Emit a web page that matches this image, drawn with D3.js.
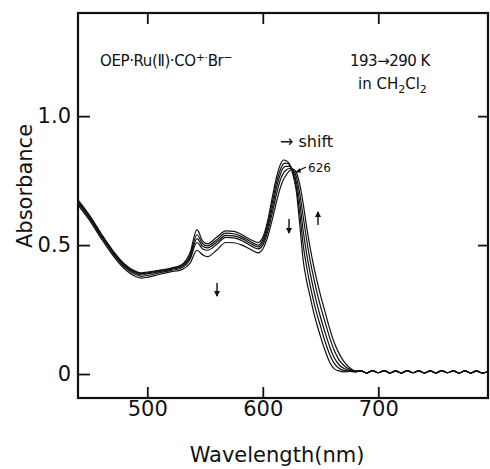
<!DOCTYPE html>
<html>
<head>
<meta charset="utf-8">
<script src="https://cdn.jsdelivr.net/npm/d3@7/dist/d3.min.js"></script>
<style>
  html, body { margin: 0; padding: 0; background: #fff; }
  svg { display: block; font-family: "DejaVu Sans", sans-serif; }
</style>
</head>
<body>
<svg id="chart" width="490" height="469"></svg>
<script>
(function () {
  'use strict';

  // wavelengths (nm) shared by the five spectra
  var wavelengths = [440, 450, 460, 470, 480, 490, 495, 500, 510, 520,
    530, 537, 543, 548, 552, 560, 568, 575, 582, 590,
    596, 600, 604, 608, 612, 615, 618, 620, 623, 626,
    629, 632, 635, 638, 641, 644, 647, 650, 654, 658,
    662, 666, 670, 675, 680];

  // 193 K (highest peak, leftmost red edge)
  var curve1 = [0.675, 0.615, 0.545, 0.480, 0.428, 0.398, 0.392, 0.395, 0.402, 0.410,
    0.425, 0.470, 0.560, 0.515, 0.505, 0.530, 0.555, 0.553, 0.540, 0.520,
    0.510, 0.530, 0.590, 0.680, 0.765, 0.810, 0.830, 0.828, 0.815, 0.775,
    0.710, 0.580, 0.440, 0.360, 0.300, 0.240, 0.190, 0.145, 0.090, 0.045,
    0.020, 0.012, 0.008, 0.010, 0.008];
  var curve2 = [0.670, 0.612, 0.542, 0.477, 0.425, 0.395, 0.389, 0.392, 0.400, 0.408,
    0.421, 0.460, 0.540, 0.505, 0.497, 0.520, 0.546, 0.544, 0.532, 0.512,
    0.500, 0.520, 0.575, 0.660, 0.745, 0.790, 0.815, 0.818, 0.812, 0.785,
    0.725, 0.625, 0.500, 0.415, 0.345, 0.283, 0.230, 0.185, 0.125, 0.075,
    0.040, 0.022, 0.014, 0.012, 0.009];
  var curve3 = [0.667, 0.608, 0.538, 0.473, 0.421, 0.391, 0.385, 0.388, 0.397, 0.405,
    0.417, 0.452, 0.525, 0.495, 0.489, 0.511, 0.538, 0.536, 0.525, 0.505,
    0.493, 0.510, 0.562, 0.640, 0.725, 0.772, 0.800, 0.805, 0.805, 0.790,
    0.745, 0.665, 0.555, 0.465, 0.392, 0.328, 0.270, 0.220, 0.160, 0.105,
    0.062, 0.036, 0.022, 0.014, 0.010];
  var curve4 = [0.662, 0.603, 0.533, 0.468, 0.416, 0.386, 0.379, 0.382, 0.392, 0.401,
    0.412, 0.445, 0.510, 0.485, 0.480, 0.502, 0.530, 0.528, 0.517, 0.497,
    0.485, 0.500, 0.548, 0.620, 0.700, 0.750, 0.780, 0.790, 0.797, 0.793,
    0.765, 0.700, 0.610, 0.520, 0.440, 0.375, 0.315, 0.262, 0.200, 0.140,
    0.090, 0.055, 0.034, 0.018, 0.010];
  // 290 K (peak at 626 nm)
  var curve5 = [0.655, 0.596, 0.526, 0.461, 0.409, 0.378, 0.372, 0.375, 0.386, 0.396,
    0.405, 0.430, 0.480, 0.462, 0.455, 0.480, 0.510, 0.509, 0.500, 0.482,
    0.470, 0.485, 0.528, 0.595, 0.670, 0.720, 0.755, 0.770, 0.788, 0.795,
    0.782, 0.735, 0.660, 0.570, 0.490, 0.420, 0.360, 0.305, 0.240, 0.175,
    0.120, 0.080, 0.050, 0.025, 0.012];

  // common wavy baseline beyond 680 nm
  var tailWl = [685, 690, 695, 700, 705, 710, 715, 720, 725, 730, 735, 740,
    745, 750, 755, 760, 765, 770, 775, 780, 785, 790, 795];
  var tailAbs = [0.012, 0.004, 0.013, 0.005, 0.013, 0.004, 0.012, 0.004, 0.013, 0.005, 0.012, 0.004,
    0.012, 0.004, 0.013, 0.005, 0.012, 0.004, 0.012, 0.004, 0.012, 0.004, 0.010];

  var xTicks = [500, 600, 700];
  var yTicks = [0, 0.5, 1.0];

  var svg = d3.select('#chart');
  var left = 78, right = 488, top = 13, bottom = 398;

  var x = d3.scaleLinear().domain([440, 795]).range([left, right]);
  var y = d3.scaleLinear().domain([-0.093, 1.40]).range([bottom, top]);

  var series = [curve1, curve2, curve3, curve4, curve5].map(function (vals) {
    var pts = wavelengths.map(function (w, i) { return [w, vals[i]]; });
    tailWl.forEach(function (w, i) { pts.push([w, tailAbs[i]]); });
    return pts;
  });

  var line = d3.line()
    .x(function (d) { return x(d[0]); })
    .y(function (d) { return y(d[1]); })
    .curve(d3.curveMonotoneX);

  svg.append('rect').attr('width', 490).attr('height', 469).attr('fill', '#fff');

  svg.append('g')
    .selectAll('path')
    .data(series)
    .enter()
    .append('path')
    .attr('d', line)
    .attr('fill', 'none')
    .attr('stroke', '#111')
    .attr('stroke-width', 1.2);

  // axes, ticks pointing inward
  var fmt = function (d) { return d === 0 ? '0' : d3.format('.1f')(d); };

  var gl = svg.append('g').attr('transform', 'translate(' + left + ',0)')
    .call(d3.axisLeft(y).tickValues(yTicks).tickSize(-12).tickPadding(7).tickFormat(fmt));
  var gr = svg.append('g').attr('transform', 'translate(' + right + ',0)')
    .call(d3.axisRight(y).tickValues([0.5, 1.0]).tickSize(-10).tickFormat(''));
  var gb = svg.append('g').attr('transform', 'translate(0,' + bottom + ')')
    .call(d3.axisBottom(x).tickValues(xTicks).tickSize(-11).tickPadding(3));
  var gt = svg.append('g').attr('transform', 'translate(0,' + top + ')')
    .call(d3.axisTop(x).tickValues(xTicks).tickSize(-11).tickFormat(''));

  [gl, gr, gb, gt].forEach(function (g) {
    g.select('.domain').remove();
    g.selectAll('line').attr('stroke', '#111').attr('stroke-width', 1.8);
    g.selectAll('text').attr('fill', '#111').style('font-size', '21px')
      .style('font-family', '"DejaVu Sans", sans-serif');
  });

  svg.append('rect')
    .attr('x', left).attr('y', top)
    .attr('width', right - left).attr('height', bottom - top)
    .attr('fill', 'none').attr('stroke', '#111').attr('stroke-width', 2.2);

  // axis titles
  svg.append('text')
    .attr('x', (left + right) / 2 - 6).attr('y', 462)
    .attr('text-anchor', 'middle')
    .style('font-size', '21px').attr('fill', '#111')
    .text('Wavelength(nm)');

  svg.append('text')
    .attr('transform', 'translate(32,186) rotate(-90)')
    .attr('text-anchor', 'middle')
    .style('font-size', '21px').attr('fill', '#111')
    .text('Absorbance');

  // annotations
  var t1 = svg.append('text').attr('x', 100).attr('y', 66)
    .style('font-size', '15px').attr('fill', '#111').attr('letter-spacing', '-0.4');
  t1.append('tspan').text('OEP·Ru(Ⅱ)·CO');
  t1.append('tspan').attr('dy', -5).style('font-size', '11px').text('+·');
  t1.append('tspan').attr('dy', 5).text('Br');
  t1.append('tspan').attr('dy', -5).style('font-size', '11px').text('−');

  svg.append('text').attr('x', 350).attr('y', 66)
    .style('font-size', '15px').attr('fill', '#111').attr('letter-spacing', '-0.5')
    .text('193→290 K');

  var t2 = svg.append('text').attr('x', 358).attr('y', 89)
    .style('font-size', '15px').attr('fill', '#111');
  t2.append('tspan').text('in CH');
  t2.append('tspan').attr('dy', 4).style('font-size', '11px').text('2');
  t2.append('tspan').attr('dy', -4).text('Cl');
  t2.append('tspan').attr('dy', 4).style('font-size', '11px').text('2');

  svg.append('text').attr('x', 280).attr('y', 147)
    .style('font-size', '16px').attr('fill', '#111')
    .text('→ shift');

  svg.append('text').attr('x', 308).attr('y', 172)
    .style('font-size', '12px').attr('fill', '#111')
    .text('626');

  // pointer to the 626 nm peak
  svg.append('line')
    .attr('x1', 306).attr('y1', 167).attr('x2', 298).attr('y2', 171)
    .attr('stroke', '#111').attr('stroke-width', 1.3);
  svg.append('path')
    .attr('d', 'M295,172.5 L300,168 L301,172.5 Z')
    .attr('fill', '#111');

  // change arrows (direction: 1 = down, -1 = up)
  var arrows = [
    { x: 217, y0: 283, y1: 296, dir: 1 },
    { x: 289, y0: 219, y1: 233, dir: 1 },
    { x: 318, y0: 212, y1: 225, dir: -1 }
  ];
  var ag = svg.append('g').selectAll('g').data(arrows).enter().append('g');
  ag.append('line')
    .attr('x1', function (d) { return d.x; })
    .attr('x2', function (d) { return d.x; })
    .attr('y1', function (d) { return d.y0; })
    .attr('y2', function (d) { return d.y1; })
    .attr('stroke', '#111').attr('stroke-width', 1.4);
  ag.append('path')
    .attr('d', function (d) {
      var tip = d.dir === 1 ? d.y1 + 1 : d.y0 - 1;
      var base = tip - d.dir * 6;
      return 'M' + (d.x - 3) + ',' + base + ' L' + d.x + ',' + tip + ' L' + (d.x + 3) + ',' + base + ' Z';
    })
    .attr('fill', '#111');
})();
</script>
</body>
</html>
